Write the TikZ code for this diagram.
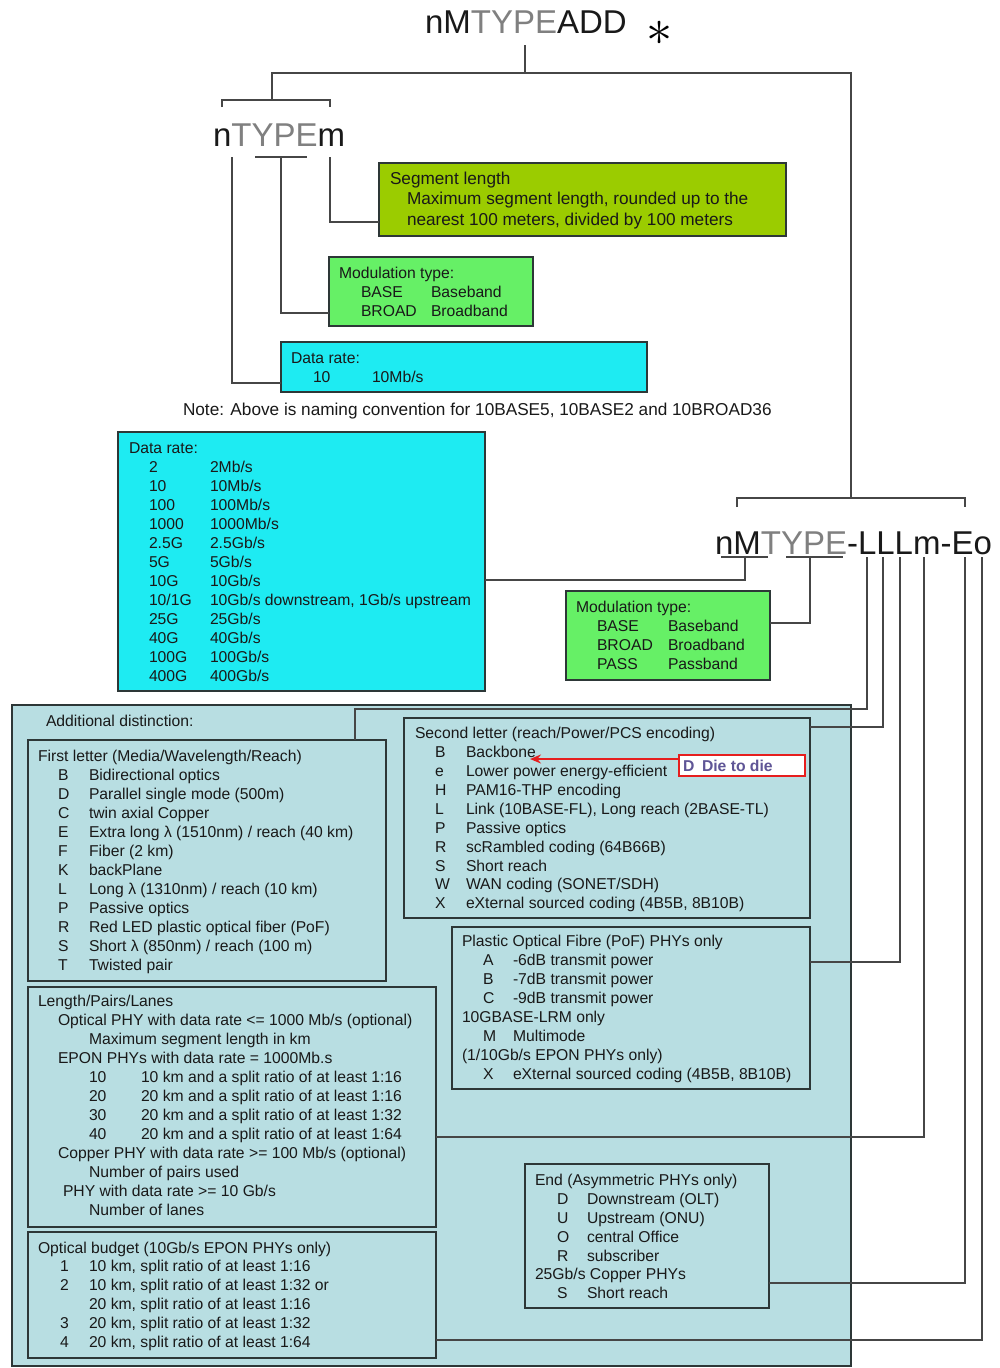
\documentclass[tikz,border=0pt]{standalone}
\usepackage{graphicx}
\usepackage{fontspec}
\setmainfont{Liberation Sans}
\usetikzlibrary{calc,arrows.meta}
\definecolor{segG}{RGB}{155,204,0}
\definecolor{modG}{RGB}{102,240,102}
\definecolor{cyanB}{RGB}{30,235,242}
\definecolor{lblue}{RGB}{184,222,226}
\definecolor{bord}{RGB}{45,55,55}
\definecolor{conn}{RGB}{70,70,70}
\definecolor{tgray}{RGB}{128,128,128}
\definecolor{txtc}{RGB}{25,25,25}
\definecolor{dieC}{RGB}{95,85,150}
\definecolor{redC}{RGB}{230,30,30}
\newcommand\rp[6]{%
  \node[txt] (#1a) at (#2,#4) {#5};
  \node[txt] (#1b) at (#3,#4) {#6};}
\begin{document}
\begin{tikzpicture}[x=1pt,y=-1pt,
  box/.style={draw=bord, line width=1.3pt, anchor=north west, inner sep=0pt, outer sep=0pt},
  txt/.style={anchor=base west, inner sep=0pt, outer sep=0pt, text=txtc, font=\fontsize{15.7}{19}\selectfont},
  stxt/.style={txt, font=\fontsize{17.2}{20}\selectfont},
  big/.style={anchor=base west, inner sep=0pt, outer sep=0pt, text=txtc, font=\fontsize{33}{36}\selectfont},
  wire/.style={draw=conn, line width=1.4pt}
]
\fill[white] (0,0) rectangle (999,1368);
\useasboundingbox (0,0) rectangle (999,1368);

% ---------- titles ----------
\node[big] (title) at (425,33) {nM\textcolor{tgray}{TYPE}ADD};
\node[inner sep=0pt, font=\fontsize{24.88}{26}\selectfont] (ast) at (660,33) {\scalebox{2.1}{$\ast$}};
\node[big] (old) at (213,146) {n\textcolor{tgray}{TYPE}m};
\node[big] (new) at (715,554) {nM\textcolor{tgray}{TYPE}-LLLm-Eo};

% ---------- upper boxes ----------
\node[box, fill=segG, minimum width=407pt, minimum height=73pt] (seg) at (379,163) {};
\node[box, fill=modG, minimum width=204pt, minimum height=69pt] (mod1) at (329,257) {};
\node[box, fill=cyanB, minimum width=366pt, minimum height=50pt] (dr1) at (281,342) {};
\node[box, fill=cyanB, minimum width=367pt, minimum height=259pt] (dr2) at (118,432) {};
\node[box, fill=modG, minimum width=204pt, minimum height=89pt] (mod2) at (566,591) {};

% ---------- additional distinction ----------
\node[box, fill=lblue, minimum width=839pt, minimum height=661pt] (add) at (12,705) {};
\node[box, fill=lblue, minimum width=358pt, minimum height=241pt] (fl) at (28,740) {};
\node[box, fill=lblue, minimum width=406pt, minimum height=200pt] (sl) at (404,718) {};
\node[box, fill=lblue, minimum width=358pt, minimum height=162pt] (pof) at (452,927) {};
\node[box, fill=lblue, minimum width=408pt, minimum height=240pt] (len) at (28,987) {};
\node[box, fill=lblue, minimum width=408pt, minimum height=126pt] (ob) at (28,1232) {};
\node[box, fill=lblue, minimum width=244pt, minimum height=144pt] (end) at (525,1164) {};
\node[box, draw=redC, fill=white, line width=1.3pt, minimum width=126pt, minimum height=21pt] (die) at (679,755) {};

% ---------- brackets and underlines ----------
\coordinate (tb) at (525,45);
\coordinate (j1) at (525,73);
\coordinate (br1) at (272,100);
\coordinate (br2) at (851,498);
\draw[wire] (tb) -- (j1);
\draw[wire] (br1) |- (j1) -| (br2);
\draw[wire] (222,107) -- (222,100) -- (330,100) -- (330,107);
\draw[wire] (737,507) -- (737,498) -- (965,498) -- (965,507);
\draw[wire] (255,157) -- (307,157);
\draw[wire] (721,557) -- (768,557);
\draw[wire] (786,557) -- (843,557);

% ---------- connectors ----------
\coordinate (cN) at (232,157);
\coordinate (cT) at (281,157);
\coordinate (cM) at (330,157);
\draw[wire] (cN) |- ($(dr1.south west)+(0,-9)$);
\draw[wire] (cT) |- ($(mod1.south west)+(0,-13)$);
\draw[wire] (cM) |- ($(seg.south west)+(0,-14)$);
\coordinate (dNM) at (745,557);
\coordinate (dT) at (810,557);
\coordinate (dL1) at (867,557);
\coordinate (dL2) at (883,557);
\coordinate (dL3) at (900,557);
\coordinate (dm) at (924,557);
\coordinate (dE) at (965,557);
\coordinate (do) at (982,557);
\draw[wire] (dNM) |- ($(dr2.north east)+(0,148)$);
\draw[wire] (dT) |- ($(mod2.north east)+(0,32)$);
\draw[wire] (dL1) |- ($(fl.north west)+(327,-31)$) -- ($(fl.north west)+(327,0)$);
\draw[wire] (dL2) |- ($(sl.north east)+(0,9)$);
\draw[wire] (dL3) |- ($(pof.north east)+(0,35)$);
\draw[wire] (dm) |- ($(len.north east)+(0,150)$);
\draw[wire] (dE) |- ($(end.north east)+(0,119)$);
\draw[wire] (do) |- ($(ob.north east)+(0,108)$);

% red arrow
\coordinate (arrTip) at (530,759);
\draw[redC, line width=2pt, -{Stealth[length=11pt,width=9pt]}] ($(die.north west)+(0,4)$) -- (arrTip);

% ---------- texts ----------
\node[stxt] (segT1) at (390,184) {Segment length};
\node[stxt] (segT2) at (407,204) {Maximum segment length, rounded up to the};
\node[stxt] (segT3) at (407,225) {nearest 100 meters, divided by 100 meters};

\node[txt] (m1T) at (339,278) {Modulation type:};
\rp{m1r1}{361}{431}{297}{BASE}{Baseband}
\rp{m1r2}{361}{431}{316}{BROAD}{Broadband}

\node[txt] (d1T) at (291,363) {Data rate:};
\rp{d1r1}{313}{372}{382}{10}{10Mb/s}

\node[stxt] (note) at (183,415) {Note: Above is naming convention for 10BASE5, 10BASE2 and 10BROAD36};

\node[txt] (d2T) at (129,453.6) {Data rate:};
\rp{d2r1}{149}{210}{472.3}{2}{2Mb/s}
\rp{d2r2}{149}{210}{491.3}{10}{10Mb/s}
\rp{d2r3}{149}{210}{510.4}{100}{100Mb/s}
\rp{d2r4}{149}{210}{529.4}{1000}{1000Mb/s}
\rp{d2r5}{149}{210}{548.4}{2.5G}{2.5Gb/s}
\rp{d2r6}{149}{210}{567.5}{5G}{5Gb/s}
\rp{d2r7}{149}{210}{586.5}{10G}{10Gb/s}
\rp{d2r8}{149}{210}{605.5}{10/1G}{10Gb/s downstream, 1Gb/s upstream}
\rp{d2r9}{149}{210}{624.5}{25G}{25Gb/s}
\rp{d2r10}{149}{210}{643.6}{40G}{40Gb/s}
\rp{d2r11}{149}{210}{662.6}{100G}{100Gb/s}
\rp{d2r12}{149}{210}{681.6}{400G}{400Gb/s}

\node[txt] (m2T) at (576,612) {Modulation type:};
\rp{m2r1}{597}{668}{631}{BASE}{Baseband}
\rp{m2r2}{597}{668}{650}{BROAD}{Broadband}
\rp{m2r3}{597}{668}{669}{PASS}{Passband}

\node[txt] (addT) at (46,726) {Additional distinction:};

\node[txt] (flT) at (38,761.6) {First letter (Media/Wavelength/Reach)};
\rp{fl1}{58}{89}{780.6}{B}{Bidirectional optics}
\rp{fl2}{58}{89}{799.6}{D}{Parallel single mode (500m)}
\rp{fl3}{58}{89}{818.6}{C}{twin axial Copper}
\rp{fl4}{58}{89}{837.6}{E}{Extra long λ (1510nm) / reach (40 km)}
\rp{fl5}{58}{89}{856.6}{F}{Fiber (2 km)}
\rp{fl6}{58}{89}{875.6}{K}{backPlane}
\rp{fl7}{58}{89}{894.6}{L}{Long λ (1310nm) / reach (10 km)}
\rp{fl8}{58}{89}{913.6}{P}{Passive optics}
\rp{fl9}{58}{89}{932.6}{R}{Red LED plastic optical fiber (PoF)}
\rp{fl10}{58}{89}{951.6}{S}{Short λ (850nm) / reach (100 m)}
\rp{fl11}{58}{89}{970.6}{T}{Twisted pair}

\node[txt] (slT) at (415,738.6) {Second letter (reach/Power/PCS encoding)};
\rp{sl1}{435}{466}{757.6}{B}{Backbone}
\rp{sl2}{435}{466}{776.5}{e}{Lower power energy-efficient}
\rp{sl3}{435}{466}{795.4}{H}{PAM16-THP encoding}
\rp{sl4}{435}{466}{814.3}{L}{Link (10BASE-FL), Long reach (2BASE-TL)}
\rp{sl5}{435}{466}{833.2}{P}{Passive optics}
\rp{sl6}{435}{466}{852.1}{R}{scRambled coding (64B66B)}
\rp{sl7}{435}{466}{871.0}{S}{Short reach}
\rp{sl8}{435}{466}{889.9}{W}{WAN coding (SONET/SDH)}
\rp{sl9}{435}{466}{908.8}{X}{eXternal sourced coding (4B5B, 8B10B)}

\node[txt, text=dieC, font=\fontsize{15.7}{19}\selectfont\bfseries] (dieD) at (683,771) {D};
\node[txt, text=dieC, font=\fontsize{15.7}{19}\selectfont\bfseries] (dieT) at (702,771) {Die to die};

\node[txt] (pofT) at (462,946.6) {Plastic Optical Fibre (PoF) PHYs only};
\rp{pof1}{483}{513}{965.6}{A}{-6dB transmit power}
\rp{pof2}{483}{513}{984.6}{B}{-7dB transmit power}
\rp{pof3}{483}{513}{1003.6}{C}{-9dB transmit power}
\node[txt] (pof4) at (462,1022.6) {10GBASE-LRM only};
\rp{pof5}{483}{513}{1041.6}{M}{Multimode}
\node[txt] (pof6) at (462,1060.6) {(1/10Gb/s EPON PHYs only)};
\rp{pof7}{483}{513}{1079.6}{X}{eXternal sourced coding (4B5B, 8B10B)}

\node[txt] (lenT) at (38,1006.6) {Length/Pairs/Lanes};
\node[txt] (len1) at (58,1025.6) {Optical PHY with data rate <= 1000 Mb/s (optional)};
\node[txt] (len2) at (89,1044.6) {Maximum segment length in km};
\node[txt] (len3) at (58,1063.6) {EPON PHYs with data rate = 1000Mb.s};
\rp{len4}{89}{141}{1082.6}{10}{10 km and a split ratio of at least 1:16}
\rp{len5}{89}{141}{1101.6}{20}{20 km and a split ratio of at least 1:16}
\rp{len6}{89}{141}{1120.6}{30}{20 km and a split ratio of at least 1:32}
\rp{len7}{89}{141}{1139.6}{40}{20 km and a split ratio of at least 1:64}
\node[txt] (len8) at (58,1158.6) {Copper PHY with data rate >= 100 Mb/s (optional)};
\node[txt] (len9) at (89,1177.6) {Number of pairs used};
\node[txt] (len10) at (63,1196.6) {PHY with data rate >= 10 Gb/s};
\node[txt] (len11) at (89,1215.6) {Number of lanes};

\node[txt] (obT) at (38,1253.6) {Optical budget (10Gb/s EPON PHYs only)};
\rp{ob1}{60}{89}{1271.6}{1}{10 km, split ratio of at least 1:16}
\rp{ob2}{60}{89}{1290.6}{2}{10 km, split ratio of at least 1:32 or}
\node[txt] (ob3) at (89,1309.6) {20 km, split ratio of at least 1:16};
\rp{ob4}{60}{89}{1328.6}{3}{20 km, split ratio of at least 1:32}
\rp{ob5}{60}{89}{1347.6}{4}{20 km, split ratio of at least 1:64}

\node[txt] (endT) at (535,1185.6) {End (Asymmetric PHYs only)};
\rp{end1}{557}{587}{1204.6}{D}{Downstream (OLT)}
\rp{end2}{557}{587}{1223.6}{U}{Upstream (ONU)}
\rp{end3}{557}{587}{1242.6}{O}{central Office}
\rp{end4}{557}{587}{1261.6}{R}{subscriber}
\node[txt] (end5) at (535,1279.6) {25Gb/s Copper PHYs};
\rp{end6}{557}{587}{1298.6}{S}{Short reach}
\end{tikzpicture}
\end{document}
